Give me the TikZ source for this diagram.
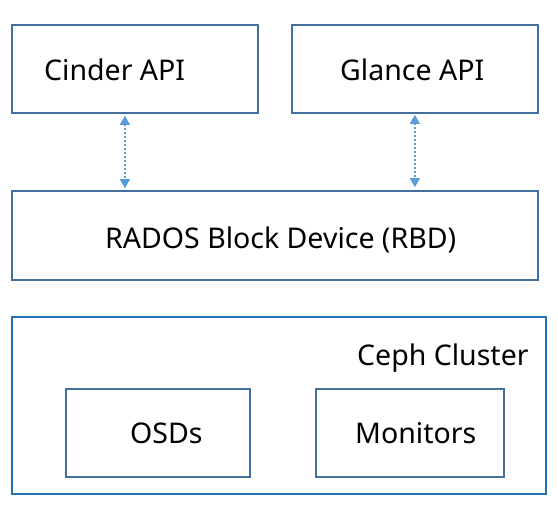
\documentclass[tikz,border=0pt]{standalone}
\usepackage{fontspec}
\setmainfont{Noto Sans}
\usetikzlibrary{arrows.meta}
\definecolor{boxcol}{HTML}{41719C}
\definecolor{clustercol}{HTML}{2272BA}
\definecolor{linkcol}{HTML}{5B9BD5}
\begin{document}
\begin{tikzpicture}[x=1pt,y=1pt,
  box/.style={draw=boxcol,line width=1.6pt,rectangle,inner sep=0pt},
  clusterbox/.style={draw=clustercol,line width=1.8pt,rectangle,inner sep=0pt},
  lbl/.style={inner sep=0pt,anchor=base west,font=\fontsize{28.5}{32}\selectfont},
  link/.style={draw=linkcol,line width=1.3pt,dash pattern=on 2pt off 2pt,
    {Triangle[width=10pt,length=9pt,fill=linkcol]}-{Triangle[width=10pt,length=9pt,fill=linkcol]}}]
\useasboundingbox (0,0) rectangle (558,-514);
\node[box,minimum width=246pt,minimum height=88pt] (cinder) at (135,-69) {};
\node[box,minimum width=246pt,minimum height=88pt] (glance) at (415,-69) {};
\node[box,minimum width=526pt,minimum height=89pt] (rbd) at (275,-235.5) {};
\node[clusterbox,minimum width=534pt,minimum height=177pt] (ceph) at (279,-405.5) {};
\node[box,minimum width=184pt,minimum height=88pt] (osds) at (158,-433) {};
\node[box,minimum width=188pt,minimum height=88pt] (mons) at (410,-433) {};
\node[lbl] (cindert) at (44,-80) {Cinder API};
\node[lbl] (glancet) at (340,-80) {Glance API};
\node[lbl] (rbdt) at (105,-248) {RADOS Block Device (RBD)};
\node[lbl] (cepht) at (357,-365) {Ceph Cluster};
\node[lbl] (osdst) at (130,-443) {OSDs};
\node[lbl] (monst) at (355,-443) {Monitors};
\draw[link] ([xshift=113.7pt,yshift=-2pt]cinder.south west) -- ([xshift=113.7pt,yshift=2pt]rbd.north west);
\draw[link] ([xshift=123.7pt,yshift=-1pt]glance.south west) -- ([xshift=403.7pt,yshift=3pt]rbd.north west);
\end{tikzpicture}
\end{document}
